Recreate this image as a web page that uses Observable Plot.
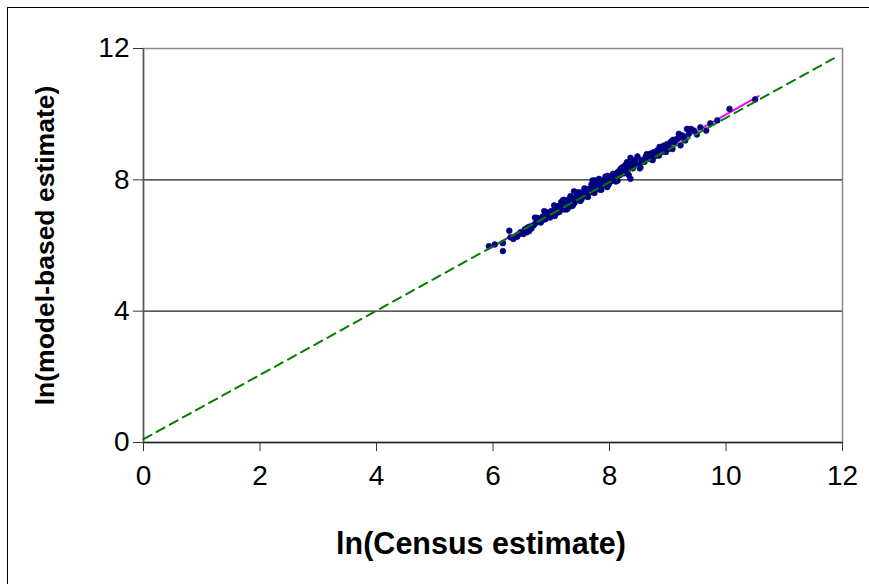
<!DOCTYPE html>
<html><head><meta charset="utf-8">
<script src="https://cdn.jsdelivr.net/npm/d3@7"></script>
<script src="https://cdn.jsdelivr.net/npm/@observablehq/plot@0.6"></script>
<style>
body{margin:0;background:#fff}
#wrap{position:relative;width:869px;height:584px;overflow:hidden;background:#fff}
#frame{position:absolute;left:7px;top:7px;width:900px;height:700px;border-left:1px solid #000;border-top:1px solid #000;pointer-events:none}
svg{font-family:"Liberation Sans",Arial,sans-serif}
</style>
</head><body><div id="wrap"><div id="frame"></div></div>
<script>
// observed points: ln(Census estimate), ln(model-based estimate)
const censusX = [5.93,6.03,6.17,6.17,6.415,6.52,6.47,6.62,6.64,6.73,6.79,6.76,6.84,6.90,6.93,6.99,7.04,7.10,7.13,7.19,7.22,7.27,7.33,7.39,7.42,7.47,7.50,7.56,7.62,7.67,7.73,7.76,7.82,7.85,7.90,7.96,7.99,8.05,8.10,8.13,8.19,8.22,8.30,8.36,8.36,8.42,8.48,8.53,8.56,8.65,8.70,8.76,8.85,8.88,8.93,8.99,9.05,9.08,9.10,9.16,9.19,9.25,9.28,9.33,9.36,9.45,9.56,9.66,9.73,9.85,10.06,10.5,
6.95,7.0,7.02,7.08,7.1,7.12,7.15,7.18,7.2,7.22,7.25,7.27,7.3,7.3,7.32,7.35,7.35,7.38,7.4,7.4,7.42,7.45,7.45,7.48,7.5,7.5,7.52,7.55,7.55,7.58,7.6,7.6,7.62,7.65,7.65,7.68,7.7,7.72,7.75,7.75,7.78,7.8,7.82,7.85,7.88,7.9,7.92,7.95,8.0,8.02,8.05,8.08,8.1,8.12,8.15,8.18,8.2,8.25,8.28,8.3,8.35,8.38,8.4,8.45,8.5,8.55,8.6,8.62,8.68,8.72,8.78,8.82,8.9,8.95,9.0,9.02,9.12,9.2,9.3,6.6,6.7,6.75,6.82,6.85,6.9,6.45,6.55,6.3,6.58,
6.88,6.98,7.05,7.14,7.2,7.26,7.33,7.37,7.44,7.5,7.57,7.63,7.69,7.74,7.8,7.86,7.93,7.98,8.06,8.14,8.22,8.33,8.44,8.52,8.64,8.74,8.86,8.97,9.08,9.22,9.4,9.5,7.06,7.17,7.28,7.46,7.53,7.71,7.84,7.97,8.11,8.27,6.66,6.72,6.35,6.28];
const modelY = [5.98,6.03,6.07,5.83,6.27,6.35,6.40,6.44,6.58,6.68,6.74,6.84,6.76,6.96,7.01,6.91,7.06,7.19,7.08,7.27,7.39,7.37,7.47,7.65,7.47,7.52,7.37,7.57,7.72,7.69,7.83,7.98,8.03,7.90,7.98,7.78,7.88,8.08,8.13,8.20,8.33,8.23,8.54,8.67,8.03,8.43,8.71,8.38,8.54,8.69,8.79,8.84,8.74,8.89,9.04,9.09,9.15,8.94,9.22,9.25,9.40,9.35,9.30,9.55,9.40,9.50,9.60,9.50,9.72,9.81,10.16,10.45,
6.9,7.05,6.95,7.12,7.0,7.2,7.1,7.15,7.22,7.1,7.3,7.2,7.25,7.38,7.3,7.2,7.42,7.35,7.3,7.45,7.38,7.4,7.55,7.45,7.48,7.6,7.42,7.55,7.5,7.62,7.5,7.65,7.58,7.7,7.6,7.75,7.65,7.72,7.8,7.68,7.85,7.75,7.9,7.82,7.95,7.85,8.0,7.92,8.05,7.95,8.12,8.02,8.18,8.1,8.25,8.15,8.3,8.2,8.35,8.28,8.4,8.5,8.35,8.5,8.45,8.6,8.55,8.7,8.65,8.8,8.72,8.9,8.85,8.98,9.05,8.95,9.15,9.3,9.2,6.55,6.62,6.8,6.7,6.88,6.8,6.35,6.5,6.25,6.4,
7.05,6.85,7.22,7.02,7.38,7.1,7.5,7.22,7.6,7.36,7.74,7.48,7.86,7.6,7.96,7.7,8.1,7.85,8.18,7.98,8.38,8.15,8.6,8.35,8.78,8.6,9.0,8.85,9.2,9.05,9.55,9.38,6.9,7.32,7.12,7.62,7.62,7.98,7.7,8.12,7.95,8.45,6.52,6.85,6.2,6.45];
// reference line (green dashed) and fitted line (magenta)
const refX = [0, 11.85];
const refY = [0.1, 11.7];
const fitX = [5.92, 10.56];
const fitY = [5.9, 10.55];
const xTicks = [0, 2, 4, 6, 8, 10, 12];
const yTicks = [0, 4, 8, 12];
const gridY = [4, 8];
const xLabel = "ln(Census estimate)";
const yLabel = "ln(model-based estimate)";

const points = censusX.map((x, i) => ({x, y: modelY[i]}));
const ref = refX.map((x, i) => ({x, y: refY[i]}));
const fit = fitX.map((x, i) => ({x, y: fitY[i]}));

const chart = Plot.plot({
  width: 869, height: 584,
  marginLeft: 143, marginRight: 27, marginTop: 48, marginBottom: 142,
  style: {fontFamily: '"Liberation Sans", Arial, sans-serif', background: "transparent"},
  x: {domain: [0, 12]},
  y: {domain: [0, 12]},
  marks: [
    Plot.frame({stroke: "#8c8c8c", strokeWidth: 1.5}),
    Plot.ruleY(gridY, {stroke: "#222", strokeWidth: 1.2}),
    Plot.ruleY([0], {stroke: "#222", strokeWidth: 1.5}),
    Plot.ruleX([0], {stroke: "#555", strokeWidth: 1.5}),
    Plot.axisX({ticks: xTicks, tickSize: 9, tickPadding: 14, fontSize: 28, label: null, stroke: "#333"}),
    Plot.axisY({ticks: yTicks, tickSize: 10, tickPadding: 4, fontSize: 28, label: null, stroke: "#333"}),
    Plot.line(fit, {x: "x", y: "y", stroke: "#ff00ff", strokeWidth: 2}),
    Plot.dot(points, {x: "x", y: "y", r: 2.9, fill: "#000080", stroke: "#000080", strokeWidth: 0.6}),
    Plot.line(ref, {x: "x", y: "y", stroke: "#008000", strokeWidth: 2, strokeDasharray: "9,6"}),
    Plot.text([xLabel], {frameAnchor: "bottom", dy: 102, fontSize: 30.5, fontWeight: "bold", fill: "#000", lineAnchor: "middle", textAnchor: "middle", dx: -12}),
    Plot.text([yLabel], {frameAnchor: "left", dx: -98, rotate: -90, fontSize: 26.5, fontWeight: "bold", fill: "#000", lineAnchor: "middle", textAnchor: "middle"})
  ]
});
document.getElementById("wrap").prepend(chart);
</script>
</body></html>
